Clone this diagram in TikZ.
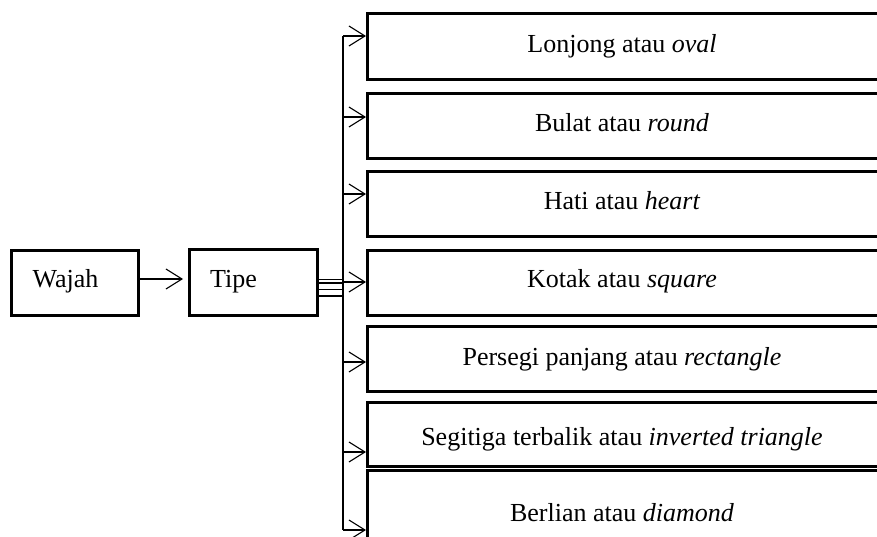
\documentclass[tikz,border=0pt]{standalone}
\usepackage{fontspec}
\setmainfont{Liberation Serif}
\usetikzlibrary{arrows.meta}
\begin{document}
\begin{tikzpicture}[x=1pt,y=-1pt,
  box/.style={draw,line width=2.6pt,inner sep=0pt},
  lbl/.style={anchor=base,inner sep=0pt,font=\fontsize{26}{31}\selectfont},
  conn/.style={line width=1.2pt},
  arr/.style={conn,-{Straight Barb[length=16pt,width=20pt,line width=1.1pt]}}]
\useasboundingbox (0,0) rectangle (877,537);

% left-hand boxes
\node[box,minimum width=127pt,minimum height=65pt,anchor=north west] (wajah) at (10,249) {};
\node[lbl] (twajah) at (65.5,287) {Wajah};
\node[box,minimum width=128pt,minimum height=66pt,anchor=north west] (tipe) at (188,248) {};
\node[lbl] (ttipe) at (233.5,287) {Tipe};

% right-hand boxes (running past the right edge)
\foreach \n/\top/\h in {1/12/66, 2/92/65, 3/170/65, 4/249/65, 5/325/65, 6/401/64, 7/469/100}{
  \node[box,minimum width=514pt,minimum height=\h pt,anchor=north west] (b\n) at (366,\top) {};
}
\node[lbl] (t1) at (622,53) {Lonjong atau \textit{oval}};
\node[lbl] (t2) at (622,132) {Bulat atau \textit{round}};
\node[lbl] (t3) at (622,210) {Hati atau \textit{heart}};
\node[lbl] (t4) at (622,287) {Kotak atau \textit{square}};
\node[lbl] (t5) at (622,365) {Persegi panjang atau \textit{rectangle}};
\node[lbl] (t6) at (622,445) {Segitiga terbalik atau \textit{inverted triangle}};
\node[lbl] (t7) at (622,521) {Berlian atau \textit{diamond}};

% Wajah -> Tipe
\coordinate (wt) at (183,279);
\draw[arr] (wajah.east |- wt) -- (wt);

% stubs from Tipe to the bracket
\coordinate (top) at (343,36);
\coordinate (bot) at (343,530);
\foreach \y in {279.5,283,289.5,296}{
  \draw[conn] (tipe.east |- 0,\y) -- (top |- 0,\y);
}
\draw[conn] (top) -- (bot);

% bracket arrows into each box
\foreach \n/\y in {1/36, 2/117, 3/194, 4/282, 5/362, 6/452, 7/530}{
  \draw[arr] (top |- 0,\y) -- (b\n.west |- 0,\y);
}
\end{tikzpicture}
\end{document}
